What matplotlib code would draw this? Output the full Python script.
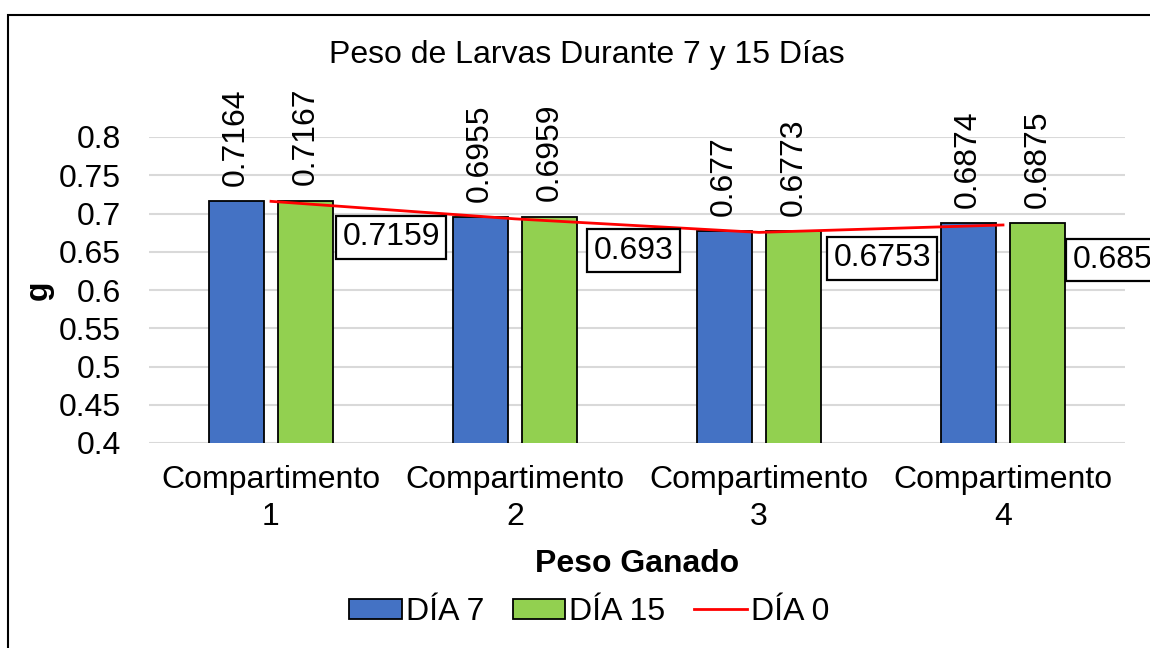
import numpy as np
import matplotlib.pyplot as plt
from matplotlib.patches import Rectangle

plt.rcParams['font.family'] = ['Liberation Sans', 'DejaVu Sans']

# data
categorias = ["Compartimento\n1", "Compartimento\n2", "Compartimento\n3", "Compartimento\n4"]
dia7 = [0.7164, 0.6955, 0.677, 0.6874]
dia15 = [0.7167, 0.6959, 0.6773, 0.6875]
dia0 = [0.7159, 0.693, 0.6753, 0.685]
dia0_txt = ["0.7159", "0.693", "0.6753", "0.685"]

fs = 23

fig = plt.figure(figsize=(11.5, 6.48), dpi=100)
ax = fig.add_axes([149/1150, 1 - 443/648, 976/1150, 306/648])

x = np.arange(len(categorias))
w = 0.225
off = 0.143

# bars
b1 = ax.bar(x - off, dia7, w, color='#4472C4', edgecolor='black', linewidth=1.3, label='DÍA 7', zorder=2)
b2 = ax.bar(x + off, dia15, w, color='#92D050', edgecolor='black', linewidth=1.3, label='DÍA 15', zorder=2)
l0, = ax.plot(x, dia0, color='#FF0000', linewidth=2, label='DÍA 0', zorder=3)

# rotated labels above bars
for xi, v in zip(x - off, dia7):
    ax.annotate(str(v), (xi, v), xytext=(0, 11), textcoords='offset points',
                rotation=90, ha='center', va='bottom', fontsize=fs)
for xi, v in zip(x + off, dia15):
    ax.annotate(str(v), (xi, v), xytext=(0, 11), textcoords='offset points',
                rotation=90, ha='center', va='bottom', fontsize=fs)

# boxed labels for DÍA 0 (offsets in px)
dx_px = [66, 73, 69, 64]
dy_px = [-36, -32, -26, -35]
for xi, v, t, dx, dy in zip(x, dia0, dia0_txt, dx_px, dy_px):
    ax.annotate(t, (xi, v), xytext=(dx * 0.72 + 4, dy * 0.72), textcoords='offset points',
                ha='left', va='center', fontsize=fs, zorder=5, annotation_clip=False,
                bbox=dict(boxstyle='square,pad=0.2', facecolor='white', edgecolor='black', linewidth=1.6))

ax.set_xlim(-0.5, 3.5)
ax.set_ylim(0.4, 0.8)
ax.set_yticks(np.arange(0.4, 0.801, 0.05))
ax.set_yticklabels(["0.4", "0.45", "0.5", "0.55", "0.6", "0.65", "0.7", "0.75", "0.8"])
ax.set_xticks(x)
ax.set_xticklabels(categorias, fontsize=fs, linespacing=1.3)
ax.tick_params(axis='y', labelsize=fs, length=0, pad=20)
ax.tick_params(axis='x', length=0, pad=16)
ax.grid(axis='y', color='#D9D9D9', linewidth=1.5, zorder=0)
ax.set_axisbelow(True)
for s in ax.spines.values():
    s.set_visible(False)

ax.set_ylabel('g', fontsize=fs, fontweight='bold', labelpad=4)
ax.set_xlabel('Peso Ganado', fontsize=fs, fontweight='bold', labelpad=12)
fig.text(587/1150, 1 - 55/648, 'Peso de Larvas Durante 7 y 15 Días', ha='center', va='center', fontsize=fs)

fig.legend([b1, b2, l0], ['DÍA 7', 'DÍA 15', 'DÍA 0'], loc='center',
           bbox_to_anchor=(589/1150, 1 - 612/648), ncol=3, frameon=False,
           fontsize=fs, handlelength=1.65, handleheight=0.6, handletextpad=0.12, columnspacing=0.9)

# outer chart border (cut off at right and bottom)
fig.patches.append(Rectangle((8/1150, -0.1), 1.2, 1 - 15/648 + 0.1, transform=fig.transFigure,
                             fill=False, edgecolor='black', linewidth=1.5))

fig.savefig('out.png', dpi=100)
